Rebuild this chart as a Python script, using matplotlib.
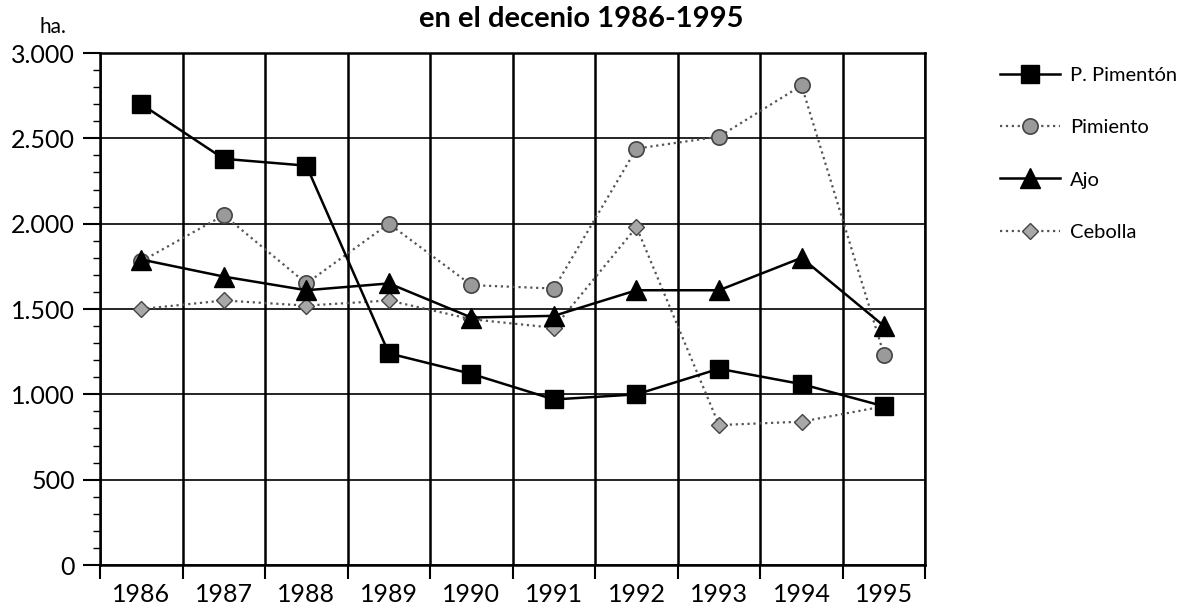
import matplotlib
matplotlib.use('Agg')
import matplotlib.pyplot as plt
from matplotlib.ticker import MultipleLocator, FuncFormatter

plt.rcParams['font.family'] = ['Lato', 'DejaVu Sans']

# data (ha.)
years = ['1986', '1987', '1988', '1989', '1990', '1991', '1992', '1993', '1994', '1995']
p_pimenton = [2700, 2380, 2340, 1240, 1120, 970, 1000, 1150, 1060, 930]
pimiento = [1780, 2050, 1650, 2000, 1640, 1620, 2440, 2510, 2810, 1230]
ajo = [1790, 1690, 1610, 1650, 1450, 1460, 1610, 1610, 1800, 1400]
cebolla = [1500, 1550, 1520, 1550, 1440, 1390, 1980, 820, 840, 930]

fig = plt.figure(figsize=(11.94, 6.08), dpi=100)
ax = fig.add_axes([0.0838, 0.0707, 0.6912, 0.8421])

x = list(range(len(years)))

ax.plot(x, p_pimenton, '-', color='black', lw=1.8, marker='s', ms=13,
        mfc='black', mec='black', label='P. Pimentón', zorder=5)
ax.plot(x, pimiento, ':', color='#555555', lw=1.6, marker='o', ms=11,
        mfc='#9a9a9a', mec='#444444', mew=1.2, label='Pimiento', zorder=4)
ax.plot(x, ajo, '-', color='black', lw=1.8, marker='^', ms=14,
        mfc='black', mec='black', label='Ajo', zorder=6)
ax.plot(x, cebolla, ':', color='#555555', lw=1.6, marker='D', ms=8,
        mfc='#a8a8a8', mec='#444444', mew=1.0, label='Cebolla', zorder=4)

ax.set_xlim(-0.5, 9.5)
ax.set_ylim(0, 3000)

# x: labels at centres, ticks + grid at the boundaries
ax.set_xticks(x)
ax.set_xticklabels(years)
ax.set_xticks([i + 0.5 for i in range(-1, 10)], minor=True)
ax.tick_params(axis='x', which='major', length=0, pad=13, labelsize=18)
ax.tick_params(axis='x', which='minor', length=10, width=1.5, direction='out')
ax.grid(True, axis='x', which='minor', color='black', lw=1.8)

# y
ax.yaxis.set_major_locator(MultipleLocator(500))
ax.yaxis.set_minor_locator(MultipleLocator(100))
ax.yaxis.set_major_formatter(FuncFormatter(lambda v, p: f'{int(v):,}'.replace(',', '.')))
ax.tick_params(axis='y', which='major', length=12, width=1.5, labelsize=18, pad=6)
ax.tick_params(axis='y', which='minor', length=5, width=1)
ax.grid(True, axis='y', which='major', color='black', lw=1.2)

for s in ax.spines.values():
    s.set_linewidth(1.8)

fig.text(0.033, 0.945, 'ha.', fontsize=15)
fig.text(0.487, 0.955, 'en el decenio 1986-1995', fontsize=21, fontweight='bold',
         ha='center')

fig.legend(loc='upper left', bbox_to_anchor=(0.822, 0.92), frameon=False,
           fontsize=14.5, labelspacing=1.75, handlelength=3.0, handletextpad=0.5)

fig.savefig('out.png', dpi=100)
